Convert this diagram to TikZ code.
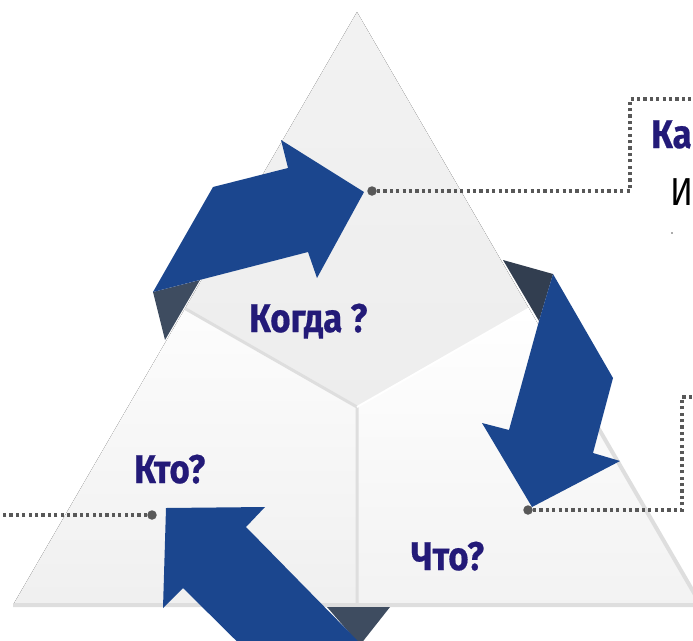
\documentclass[tikz,border=0pt]{standalone}
\usepackage{fontspec}
\usepackage{tikz}
\usetikzlibrary{positioning,calc}
\newfontfamily\headfont[FakeStretch=0.87,BoldFeatures={FakeBold=0.5}]{Fira Sans}
\newfontfamily\bodyfont[FakeStretch=0.86]{Fira Sans}
\definecolor{arrowblue}{RGB}{27,70,142}
\definecolor{foldgray}{RGB}{62,76,96}
\definecolor{foldnavy}{RGB}{50,62,80}
\definecolor{labelnavy}{RGB}{35,26,120}
\definecolor{leadgray}{RGB}{88,88,88}
\definecolor{panelline}{RGB}{222,222,222}

\begin{document}
\begin{tikzpicture}[x=1pt,y=-1pt,
    question/.style={inner sep=0pt,anchor=base west,text=labelnavy,font=\headfont\bfseries\fontsize{40}{40}\selectfont},
    leader/.style={leadgray,line width=3.4pt,dash pattern=on 3.2pt off 3.2pt},
    pin/.style={circle,fill=leadgray,inner sep=0pt,minimum size=9.5pt}]
    \useasboundingbox (0,0) rectangle (693,640);
    \clip (0,0) rectangle (693,640);
    % triangle panels
    \coordinate (apex) at (357,12);
    \coordinate (lmid) at (185,308.5);
    \coordinate (rmid) at (529,308.5);
    \coordinate (mid) at (357,407);
    \coordinate (bmid) at (357,605);
    \coordinate (lcorner) at (13,605);
    \coordinate (rcorner) at (701,605);
    \fill [top color=black!5,bottom color=black!7] (apex) -- (lmid) -- (mid) -- (rmid) -- cycle;
    \fill [top color=black!1,bottom color=black!6] (lmid) -- (mid) -- (bmid) -- (lcorner) -- cycle;
    \fill [top color=white,bottom color=black!5] (rmid) -- (rcorner) -- (bmid) -- (mid) -- cycle;
    \draw [panelline,line width=3pt] (lmid) -- (mid) -- (bmid);
    \draw [white,line width=2pt] (mid) -- (rmid);
    \draw [panelline,line width=4pt] (lcorner) -- (rcorner) -- ($(apex)!0.55!(rcorner)$);
    % arrows
    \fill [foldgray] (153,292) -- (200,280) -- (165,340) -- cycle;
    \fill [arrowblue] (153,292) -- (213,187) -- (288,168) -- (281,140) -- (364,192) -- (317,278) -- (308,252) -- cycle;
    \fill [foldnavy] (503,260) -- (553,274) -- (539,321) -- cycle;
    \fill [arrowblue] (553,274) -- (613,378) -- (593,453) -- (620,461) -- (532,507) -- (482,423) -- (509,430) -- (539,321) -- cycle;
    \fill [foldgray] (327,607) -- (390,607) -- (360,645) -- cycle;
    \fill [arrowblue] (166,508) -- (265,507) -- (246,527) -- (403,687) -- (283,687) -- (183,588) -- (163,608) -- cycle;
    % labels
    \node [question] (when) at (249,332) {Когда ?};
    \node [question] (who) at (134,483) {Кто?};
    \node [question] (what) at (411,570) {Что?};
    \node [question] (how) at (651,148) {Ка};
    \node [inner sep=0pt,anchor=base west,font=\bodyfont\fontsize{39}{39}\selectfont] (howtext) at (670,205) {И};
    \fill [leadgray] (672,233) circle (0.8);
    % leaders
    \node [pin] (whenpin) at (372,191) {};
    \node [pin] (whatpin) at (528,510) {};
    \node [pin] (whopin) at (152,515) {};
    \coordinate (howend) at (700,99);
    \coordinate (whatend) at (700,397);
    \coordinate (whoend) at (-5,515);
    \draw [leader] (whenpin.east) -| (630,99) -- (howend);
    \draw [leader] (whatpin.east) -| (682,397) -- (whatend);
    \draw [leader] (whopin.west) -- (whoend);
\end{tikzpicture}
\end{document}
